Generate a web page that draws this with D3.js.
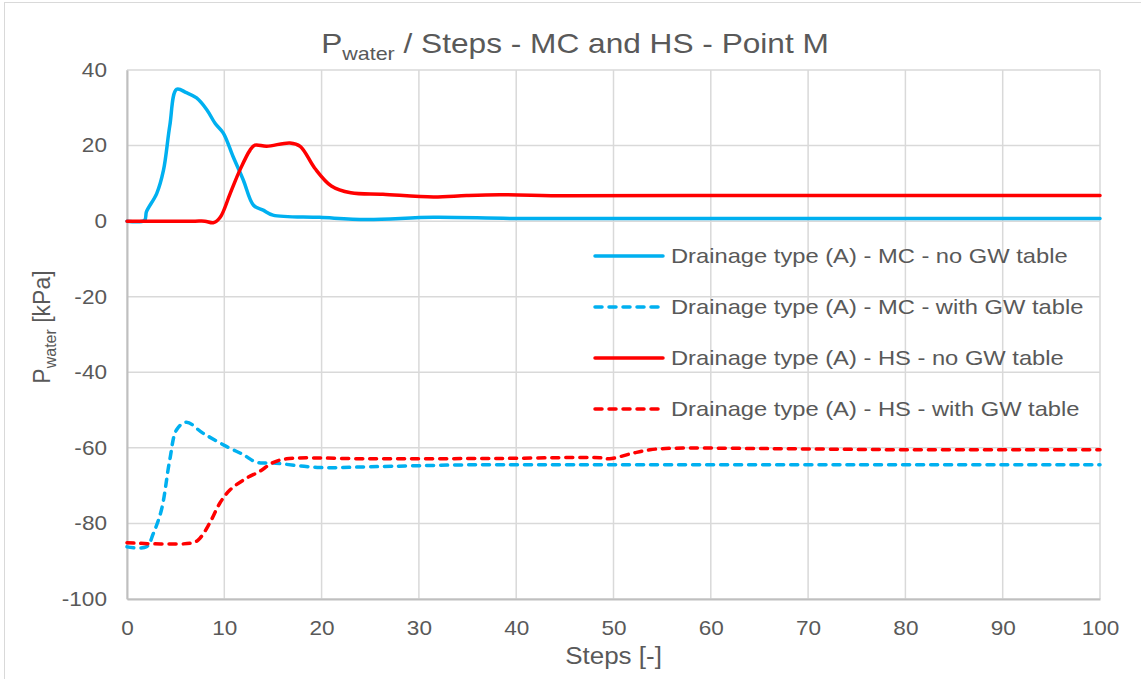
<!DOCTYPE html>
<html>
<head>
<meta charset="utf-8">
<script src="https://cdn.jsdelivr.net/npm/d3@7"></script>
<style>
  body { margin: 0; background: #fff; }
  text { font-family: "Liberation Sans", Arial, sans-serif; fill: #595959; }
</style>
</head>
<body>
<script>
// Series data
var mcNoGwSteps  = [0, 1.8, 2.0, 3.05, 3.75, 4.4, 5.1, 6.1, 7.15, 8.2, 9.05, 9.9, 10.9, 11.95, 13, 14, 15, 19.8, 24.6, 31.5, 40, 60, 80, 100];
var mcNoGwValues = [0, 0.2, 2.5, 7.3, 13.5, 25.3, 34.9, 34, 32.6, 29.5, 25.9, 23.3, 17.1, 10.9, 4.2, 2.9, 1.6, 1.0, 0.45, 1.0, 0.7, 0.7, 0.7, 0.7];

var mcGwSteps  = [0, 2.0, 2.7, 3.55, 4.4, 5.1, 6.1, 7.8, 10.2, 11.95, 13.3, 15, 19.8, 25, 35, 50, 75, 100];
var mcGwValues = [-86.2, -86.2, -82.7, -76.3, -63.1, -55.2, -53.2, -56.1, -59.6, -61.8, -63.8, -64, -65.2, -65.0, -64.5, -64.5, -64.5, -64.5];

var hsNoGwSteps  = [0, 4, 7, 8.0, 8.9, 9.6, 10.6, 11.6, 12.65, 13.15, 14.35, 16.75, 17.8, 19.3, 21.0, 23.0, 26.3, 31.5, 34.9, 38.3, 45.2, 60, 80, 100];
var hsNoGwValues = [0, 0, 0, 0, -0.4, 1.1, 7.3, 13.5, 18.8, 20.1, 19.8, 20.7, 19.8, 14.0, 9.3, 7.5, 7.1, 6.4, 6.8, 7.0, 6.7, 6.8, 6.8, 6.8];

var hsGwSteps  = [0, 6.8, 7.5, 8.5, 9.55, 10.6, 12.3, 13.65, 15, 16.4, 25, 38.3, 48.6, 49.6, 52, 53.75, 56.1, 65.7, 80, 100];
var hsGwValues = [-85.1, -85.1, -83.9, -79.9, -74.6, -71.1, -68.0, -66.2, -63.9, -62.9, -62.9, -62.8, -62.6, -62.9, -61.4, -60.5, -60.1, -60.2, -60.5, -60.5];

var seriesNames = [
  "Drainage type (A) - MC - no GW table",
  "Drainage type (A) - MC - with GW table",
  "Drainage type (A) - HS - no GW table",
  "Drainage type (A) - HS - with GW table"
];
var xTicks = [0, 10, 20, 30, 40, 50, 60, 70, 80, 90, 100];
var yTicks = [40, 20, 0, -20, -40, -60, -80, -100];

var series = [
  {name: seriesNames[0], x: mcNoGwSteps, y: mcNoGwValues, color: "#00b0f0", dash: null},
  {name: seriesNames[1], x: mcGwSteps,   y: mcGwValues,   color: "#00b0f0", dash: "7,7"},
  {name: seriesNames[2], x: hsNoGwSteps, y: hsNoGwValues, color: "#ff0000", dash: null},
  {name: seriesNames[3], x: hsGwSteps,   y: hsGwValues,   color: "#ff0000", dash: "7,7"}
];

// the reference text is a bit wider than plain Arial
var SX = 1.13;

var W = 1141, H = 679;
var margin = {top: 70, right: 41, bottom: 80, left: 127},
    width = W - margin.left - margin.right,
    height = H - margin.top - margin.bottom;

var svg = d3.select("body").append("svg")
    .attr("width", W)
    .attr("height", H);

// outer chart border
svg.append("rect")
    .attr("x", 4.5).attr("y", 2.5)
    .attr("width", W - 2).attr("height", H - 2)
    .attr("fill", "none")
    .attr("stroke", "#d9d9d9");

var g = svg.append("g")
    .attr("transform", "translate(" + margin.left + "," + margin.top + ")");

var x = d3.scaleLinear().domain([0, 100]).range([0, width]);
var y = d3.scaleLinear().domain([-100, 40]).range([height, 0]);

// gridlines
g.selectAll(".vgrid").data(xTicks).enter().append("line")
    .attr("x1", function(d) { return x(d); })
    .attr("x2", function(d) { return x(d); })
    .attr("y1", 0).attr("y2", height)
    .attr("stroke", "#d9d9d9").attr("stroke-width", 1.5);

g.selectAll(".hgrid").data(yTicks).enter().append("line")
    .attr("x1", 0).attr("x2", width)
    .attr("y1", function(d) { return y(d); })
    .attr("y2", function(d) { return y(d); })
    .attr("stroke", "#d9d9d9").attr("stroke-width", 1.5);

// axes (plain hyphen for negatives, like the reference)
var fmt = function(d) { return String(d); };
var xAxis = g.append("g")
    .attr("transform", "translate(0," + height + ")")
    .call(d3.axisBottom(x).tickValues(xTicks).tickFormat(fmt).tickSize(0).tickPadding(22));
var yAxis = g.append("g")
    .call(d3.axisLeft(y).tickValues(yTicks).tickFormat(fmt).tickSize(0).tickPadding(20));

[xAxis, yAxis].forEach(function(a) {
  a.select(".domain").attr("stroke", "#bfbfbf").attr("stroke-width", 2);
  a.selectAll("text").style("font-size", "20px").attr("fill", "#595959")
    .style("font-family", "'Liberation Sans', Arial, sans-serif");
});
xAxis.selectAll("text").attr("transform", "scale(" + SX + ",1)");
yAxis.selectAll("text")
    .attr("x", -20 / SX)
    .attr("transform", "scale(" + SX + ",1)");

// series
var line = d3.line()
    .x(function(d) { return x(d[0]); })
    .y(function(d) { return y(d[1]); })
    .curve(d3.curveCatmullRom.alpha(0.5));

g.selectAll(".series").data(series).enter().append("path")
    .attr("class", "series")
    .attr("d", function(s) { return line(d3.zip(s.x, s.y)); })
    .attr("fill", "none")
    .attr("stroke", function(s) { return s.color; })
    .attr("stroke-width", 3.5)
    .attr("stroke-linecap", "round")
    .attr("stroke-dasharray", function(s) { return s.dash; });

// legend
var legend = svg.append("g");
var rows = legend.selectAll("g").data(series).enter().append("g")
    .attr("transform", function(d, i) { return "translate(595," + (256 + i * 51) + ")"; });
rows.append("line")
    .attr("x1", 0).attr("x2", 68)
    .attr("stroke", function(d) { return d.color; })
    .attr("stroke-width", 3.5)
    .attr("stroke-linecap", "round")
    .attr("stroke-dasharray", function(d) { return d.dash; });
rows.append("g")
    .attr("transform", "translate(76,0) scale(" + SX + ",1)")
  .append("text")
    .attr("dy", "0.35em")
    .style("font-size", "21px")
    .text(function(d) { return d.name; });

// title
var title = svg.append("g")
    .attr("transform", "translate(575,53) scale(" + SX + ",1)")
  .append("text")
    .attr("text-anchor", "middle")
    .style("font-size", "28px");
title.append("tspan").text("P");
title.append("tspan").attr("dy", 7).style("font-size", "19px").text("water");
title.append("tspan").attr("dy", -7).text(" / Steps - MC and HS - Point M");

// axis titles
svg.append("g")
    .attr("transform", "translate(" + (margin.left + width / 2) + ",664) scale(" + SX + ",1)")
  .append("text")
    .attr("text-anchor", "middle")
    .style("font-size", "23px")
    .text("Steps [-]");

var yTitle = svg.append("text")
    .attr("transform", "translate(50," + (margin.top + 257) + ") rotate(-90)")
    .attr("text-anchor", "middle")
    .style("font-size", "23px");
yTitle.append("tspan").text("P");
yTitle.append("tspan").attr("dy", 6).style("font-size", "16px").text("water");
yTitle.append("tspan").attr("dy", -6).text(" [kPa]");
</script>
</body>
</html>
